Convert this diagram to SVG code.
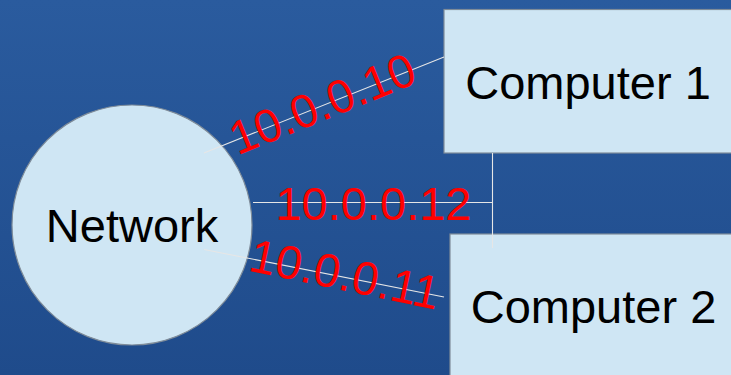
<svg xmlns="http://www.w3.org/2000/svg" width="731" height="375" viewBox="0 0 731 375">
  <defs>
    <linearGradient id="bg" x1="0" y1="0" x2="0" y2="1">
      <stop offset="0" stop-color="#2a5b9e"/>
      <stop offset="1" stop-color="#1f4b8b"/>
    </linearGradient>
    <style>
      .shape { fill: #cfe6f4; stroke: #7f8c99; stroke-width: 1.2; }
      .name { font-family: "Liberation Sans", Arial, sans-serif; font-size: 47px; fill: #000; text-anchor: middle; }
      .wire { stroke: #e6e6e6; stroke-width: 1.1; fill: none; }
      .addr { font-family: "Liberation Sans", Arial, sans-serif; font-size: 47px; fill: #ff0000; text-anchor: middle; }
    </style>
  </defs>

  <rect x="0" y="0" width="731" height="375" fill="url(#bg)"/>

  <g id="network">
    <circle class="shape" cx="132" cy="225" r="120"/>
    <text class="name" x="132" y="241.5">Network</text>
  </g>

  <g id="computer1">
    <rect class="shape" x="444" y="9.5" width="300" height="143.5"/>
    <text class="name" x="588" y="99">Computer 1</text>
  </g>

  <g id="computer2">
    <rect class="shape" x="450" y="234" width="300" height="160"/>
    <text class="name" x="593.5" y="322.5">Computer 2</text>
  </g>

  <g id="connectors">
    <line class="wire" x1="204" y1="153" x2="444" y2="57"/>
    <line class="wire" x1="253" y1="202.5" x2="492.5" y2="202.5"/>
    <line class="wire" x1="492.5" y1="153" x2="492.5" y2="248"/>
    <line class="wire" x1="204" y1="249.5" x2="444" y2="297"/>
    <text class="addr" transform="translate(322,103) rotate(-22)" x="0" y="17">10.0.0.10</text>
    <text class="addr" x="373.5" y="219.5">10.0.0.12</text>
    <text class="addr" transform="translate(345,273.5) rotate(11.8)" x="0" y="17">10.0.0.11</text>
  </g>
</svg>
